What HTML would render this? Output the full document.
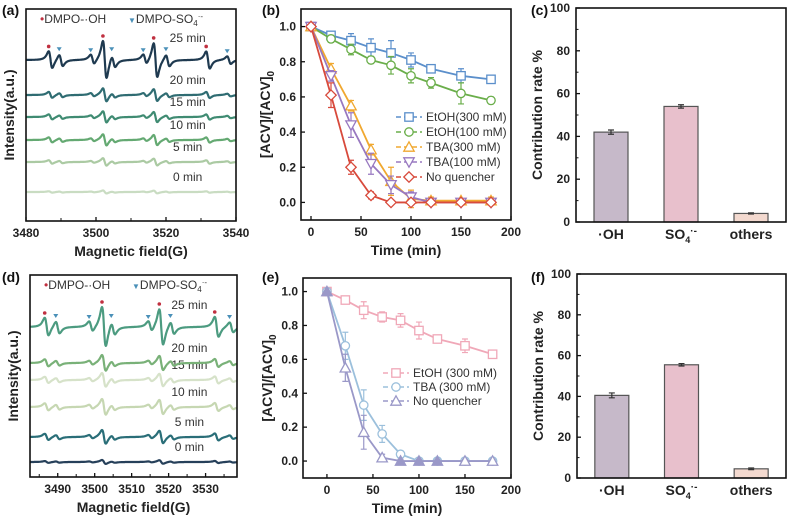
<!DOCTYPE html>
<html><head><meta charset="utf-8"><style>
html,body{margin:0;padding:0;background:#fff;}
svg{display:block;font-family:"Liberation Sans",Arial,sans-serif;}
.t{font-weight:bold;font-size:12px;fill:#222;}
.ti{font-weight:bold;font-size:14px;fill:#222;}
.lg{font-size:12px;fill:#333;}
.pl{font-weight:bold;font-size:14px;fill:#111;}
</style></head><body>
<svg id="fig" width="787" height="527" viewBox="0 0 787 527" xmlns="http://www.w3.org/2000/svg"></svg>
<script>
// ---------- data ----------
const timeB = [0,20,40,60,80,100,120,150,180];
const etoh300B = [1,0.95,0.92,0.88,0.85,0.81,0.76,0.72,0.70];
const etoh300BErr = [0,0.02,0.04,0.05,0.07,0.04,0.02,0.04,0.02];
const etoh100B = [1,0.93,0.87,0.81,0.78,0.72,0.68,0.62,0.58];
const etoh100BErr = [0,0.02,0.03,0.02,0.05,0.04,0.03,0.06,0.02];
const tba300B = [1,0.76,0.55,0.30,0.12,0.02,0.01,0.01,0.01];
const tba300BErr = [0,0.03,0.03,0.03,0.08,0.05,0.02,0.01,0.02];
const tba100B = [1,0.72,0.44,0.22,0.10,0.03,0,0,0];
const tba100BErr = [0,0.03,0.07,0.06,0.05,0.03,0.01,0.01,0.01];
const noqB = [1,0.61,0.20,0.04,0,0,0,0,0];
const noqBErr = [0,0.07,0.04,0.02,0.01,0.01,0.01,0.01,0.01];

const timeE = [0,20,40,60,80,100,120,150,180];
const etohE = [1,0.95,0.89,0.85,0.83,0.77,0.72,0.68,0.63];
const etohEErr = [0,0.02,0.05,0.03,0.04,0.05,0.02,0.04,0.02];
const tbaE = [1,0.68,0.33,0.16,0.04,0,0,0,0];
const tbaEErr = [0,0.08,0.09,0.05,0.02,0.01,0.01,0.01,0.01];
const noqE = [1,0.55,0.17,0.02,0,0,0,0,0];
const noqEErr = [0,0.08,0.10,0.02,0.01,0.01,0.01,0.01,0.01];

const barCats = ["·OH","SO4","others"];
const barsC = [42,54,4];
const barsCErr = [1,0.8,0.3];
const barsF = [40.5,55.5,4.5];
const barsFErr = [1.2,0.6,0.4];

const esrTimes = ["0 min","5 min","10 min","15 min","20 min","25 min"];
const peaksA = [3487,3502.5,3517,3532,3490,3499,3505,3514,3520.5,3538];
const peakAmpA = [0.45,1.0,0.9,0.45,0.3,0.25,0.3,0.25,0.3,0.2];
const scaleA = [0.08,0.2,0.3,0.3,0.35,1.0];
const peaksD = [3487,3502.5,3518,3533,3490,3499,3505,3515,3521,3537];
const peakAmpD = [0.45,1.0,0.9,0.5,0.3,0.25,0.3,0.25,0.3,0.25];
const scaleD = [0.1,0.35,0.4,0.35,0.4,1.0];

const svg = document.getElementById('fig');
const NS = "http://www.w3.org/2000/svg";
function el(tag, attrs, parent, text){
  const e = document.createElementNS(NS, tag);
  for (const k in attrs) e.setAttribute(k, attrs[k]);
  if (text !== undefined) e.textContent = text;
  (parent||svg).appendChild(e);
  return e;
}
function lin(d0,d1,r0,r1){ return v => r0 + (v-d0)*(r1-r0)/(d1-d0); }

function frame(g,x0,y0,x1,y1){
  const r = el('rect',{x:x0,y:y0,width:x1-x0,height:y1-y0,fill:'none',stroke:'#111','stroke-width':1.6},g);
  
  
}
function text(g,x,y,s,cls,anchor,name){
  const t = el('text',{x:x,y:y,class:cls,'text-anchor':anchor||'middle'},g,s);
  
  
  return t;
}

function marker(g,shape,x,y,color,fill){
  const s=4.2; let m;
  const f = fill ? color : '#fff';
  if (shape==='sq') m=el('rect',{x:x-s,y:y-s,width:2*s,height:2*s,fill:f,stroke:color,'stroke-width':1.3},g);
  else if (shape==='ci') m=el('circle',{cx:x,cy:y,r:s,fill:f,stroke:color,'stroke-width':1.3},g);
  else if (shape==='tu') m=el('polygon',{points:`${x},${y-s-1} ${x-s-1},${y+s} ${x+s+1},${y+s}`,fill:f,stroke:color,'stroke-width':1.3},g);
  else if (shape==='td') m=el('polygon',{points:`${x},${y+s+1} ${x-s-1},${y-s} ${x+s+1},${y-s}`,fill:f,stroke:color,'stroke-width':1.3},g);
  else m=el('polygon',{points:`${x},${y-s-1} ${x+s+1},${y} ${x},${y+s+1} ${x-s-1},${y}`,fill:f,stroke:color,'stroke-width':1.3},g);
  return m;
}

function lineChart(cfg){
  const g = el('g',{});
  
  
  const X = lin(cfg.xr[0],cfg.xr[1],cfg.box[0],cfg.box[2]);
  const Y = lin(cfg.yr[0],cfg.yr[1],cfg.box[3],cfg.box[1]);
  cfg.series.forEach(s=>{
    const sg = el('g',{},g);
    
    
    const pts = cfg.t.map((t,i)=>X(t)+','+Y(s.v[i])).join(' ');
    const pl = el('polyline',{points:pts,fill:'none',stroke:s.c,'stroke-width':1.8},sg);
    
    
    cfg.t.forEach((t,i)=>{
      if (s.e[i]>0){
        const x=X(t), ya=Y(s.v[i]+s.e[i]), yb=Y(s.v[i]-s.e[i]);
        const eb = el('path',{d:`M${x},${ya}V${yb}M${x-3},${ya}h6M${x-3},${yb}h6`,stroke:s.c,'stroke-width':1.2,fill:'none'},sg);
        
        
      }
      const m = marker(sg,s.m,X(t),Y(s.v[i]),s.c,s.fill && (i===0 || s.v[i]<0.01 && t<=120));
      
      
    });
  });
  frame(g,...cfg.box);
  cfg.xt.forEach(v=>{
    const x=X(v);
    el('line',{x1:x,x2:x,y1:cfg.box[3],y2:cfg.box[3]-4,stroke:'#111','stroke-width':1.3},g);
    text(g,x,cfg.box[3]+16,String(v),'t','middle','x-tick-label');
  });
  cfg.yt.forEach(v=>{
    const y=Y(v);
    el('line',{x1:cfg.box[0],x2:cfg.box[0]+4,y1:y,y2:y,stroke:'#111','stroke-width':1.3},g);
    text(g,cfg.box[0]-5,y+4,v.toFixed(1),'t','end','y-tick-label');
  });
  text(g,(cfg.box[0]+cfg.box[2])/2,cfg.box[3]+35,'Time (min)','ti','middle','x-axis-title');
  const yt = el('text',{transform:`translate(${cfg.box[0]-31},${(cfg.box[1]+cfg.box[3])/2}) rotate(-90)`,class:'ti','text-anchor':'middle'},g);
  
  
  yt.innerHTML='[ACV]/[ACV]<tspan font-size="10" dy="4">0</tspan>';
  cfg.series.forEach((s,i)=>{
    const ly = cfg.leg[1]+i*cfg.leg[3];
    const lg = el('g',{},g);
    
    
    el('line',{x1:cfg.leg[0],x2:cfg.leg[0]+26,y1:ly,y2:ly,stroke:s.c,'stroke-width':1.5,'stroke-dasharray':'5,3'},lg);
    marker(lg,s.m,cfg.leg[0]+13,ly,s.c,false);
    text(lg,cfg.leg[0]+30,ly+4,s.label,'lg','start','legend-text');
  });
}

lineChart({name:'chart-b',box:[301,9,511,220],xr:[-10,200],yr:[-0.1,1.1],t:timeB,
  xt:[0,50,100,150,200],yt:[0,0.2,0.4,0.6,0.8,1.0],leg:[396,117,0,15],
  series:[
    {key:'etoh300',label:'EtOH(300 mM)',v:etoh300B,e:etoh300BErr,c:'#5b8fcb',m:'sq'},
    {key:'etoh100',label:'EtOH(100 mM)',v:etoh100B,e:etoh100BErr,c:'#6aae4a',m:'ci'},
    {key:'tba300',label:'TBA(300 mM)',v:tba300B,e:tba300BErr,c:'#f0a830',m:'tu'},
    {key:'tba100',label:'TBA(100 mM)',v:tba100B,e:tba100BErr,c:'#9878c0',m:'td'},
    {key:'noq',label:'No quencher',v:noqB,e:noqBErr,c:'#d84a3c',m:'di'}]});

lineChart({name:'chart-e',box:[303,278,511,478],xr:[-26,200],yr:[-0.1,1.08],t:timeE,
  xt:[0,50,100,150,200],yt:[0,0.2,0.4,0.6,0.8,1.0],leg:[383,373,0,14],
  series:[
    {key:'etoh300',label:'EtOH (300 mM)',v:etohE,e:etohEErr,c:'#f0a8b8',m:'sq'},
    {key:'tba300',label:'TBA (300 mM)',v:tbaE,e:tbaEErr,c:'#9cc0dc',m:'ci'},
    {key:'noq',label:'No quencher',v:noqE,e:noqEErr,c:'#9a98c8',m:'tu',fill:true}]});

function barChart(name,box,vals,errs){
  const g = el('g',{});
  
  
  const Y = lin(0,100,box[3],box[1]);
  const slot=(box[2]-box[0])/3;
  const cols=['#c6b9c9','#e8c0cc','#f3d9cf'];
  vals.forEach((v,i)=>{
    const cx = box[0]+slot*(i+0.5);
    const b = el('rect',{x:cx-17,y:Y(v),width:34,height:box[3]-Y(v),fill:cols[i],stroke:'#555','stroke-width':1.2},g);
    
    
    const ya=Y(v+errs[i]), yb=Y(v-errs[i]);
    const eb = el('path',{d:`M${cx},${ya}V${yb}M${cx-3},${ya}h6M${cx-3},${yb}h6`,stroke:'#333','stroke-width':1.2,fill:'none'},g);
    
    
  });
  frame(g,...box);
  [0,20,40,60,80,100].forEach(v=>{
    el('line',{x1:box[0],x2:box[0]+4,y1:Y(v),y2:Y(v),stroke:'#111','stroke-width':1.3},g);
    text(g,box[0]-6,Y(v)+4,String(v),'t','end','y-tick-label');
  });
  [10,30,50,70,90].forEach(v=>el('line',{x1:box[0],x2:box[0]+2.5,y1:Y(v),y2:Y(v),stroke:'#111','stroke-width':1},g));
  const ly = box[3]+17;
  text(g,box[0]+slot*0.5,ly,'·OH','ti','middle','x-category-label');
  const s = el('text',{x:box[0]+slot*1.5,y:ly,class:'ti','text-anchor':'middle'},g);
  
  
  s.innerHTML='SO<tspan font-size="9" dy="4">4</tspan><tspan dy="-9" font-size="10">·-</tspan>';
  text(g,box[0]+slot*2.5,ly,'others','ti','middle','x-category-label');
  const yt = el('text',{transform:`translate(${box[0]-34},${(box[1]+box[3])/2}) rotate(-90)`,class:'ti','text-anchor':'middle'},g,'Contribution rate %');
  
  
}
barChart('chart-c',[576,8,786,222],barsC,barsCErr);
barChart('chart-f',[577,274,786,478],barsF,barsFErr);

const colsA=['#c9dcc2','#abcaa3','#64a972','#3f8b72','#2f6c72','#1f3a50'];
const colsD=['#26405a','#2a6e78','#c6d7b2','#d6e2c9','#79b178','#4c9b80'];
const W=0.9;
function esr(name,box,xr,peaks,amps,scales,bases,amp,cols,ticks,minor){
  const g = el('g',{});
  
  
  const X = lin(xr[0],xr[1],box[0],box[2]);
  scales.forEach((sc,k)=>{
    let d='';
    for (let i=0;i<=500;i++){
      const f = xr[0]+(xr[1]-xr[0])*i/500;
      let y=0;
      peaks.forEach((p,j)=>{ const u=(f-p)/W; y += amps[j]*(-u)/Math.pow(1+u*u,2)/0.325; });
      d += (i?'L':'M')+X(f).toFixed(1)+','+(bases[k]-y*amp*sc).toFixed(1);
    }
    const p = el('path',{d:d,fill:'none',stroke:cols[k],'stroke-width':2.2,'stroke-linejoin':'round'},g);
    
    
    text(g,box[0]+0.77*(box[2]-box[0]),bases[k]-(k===5?18:11),esrTimes[k],'lg','middle','time-label');
  });
  peaks.forEach((p,j)=>{
    const x=X(p-W*0.58), y=bases[5]-amps[j]*amp-5;
    if (j<4) el('circle',{cx:x,cy:y,r:1.8,fill:'#c03040'},g);
    else el('polygon',{points:`${x-2.5},${y-2} ${x+2.5},${y-2} ${x},${y+2}`,fill:'#4a90b8'},g);
  });
  frame(g,...box);
  ticks.forEach(v=>{
    el('line',{x1:X(v),x2:X(v),y1:box[3],y2:box[3]-4,stroke:'#111','stroke-width':1.3},g);
    text(g,X(v),box[3]+16,String(v),'t','middle','x-tick-label');
  });
  minor.forEach(v=>el('line',{x1:X(v),x2:X(v),y1:box[3],y2:box[3]-3,stroke:'#111','stroke-width':1},g));
  text(g,(box[0]+box[2])/2,box[3]+35,'Magnetic field(G)','ti','middle','x-axis-title');
  const yt = el('text',{transform:`translate(${box[0]-12},${(box[1]+box[3])/2}) rotate(-90)`,class:'ti','text-anchor':'middle'},g,'Intensity(a.u.)');
  
  
  const l1 = el('text',{x:box[0]+14,y:box[1]+14,class:'lg'},g);
  
  
  l1.innerHTML='<tspan fill="#c03040">•</tspan>DMPO-·OH';
  const l2 = el('text',{x:box[0]+102,y:box[1]+14,class:'lg'},g);
  
  
  l2.innerHTML='<tspan fill="#4a90b8" font-size="8">▼</tspan>DMPO-SO<tspan font-size="8" dy="3">4</tspan><tspan font-size="8" dy="-7">·-</tspan>';
}
esr('chart-a',[26,9,236,221],[3480,3540],peaksA,peakAmpA,scaleA,[192,162,140,117,95,60],19,colsA,[3480,3500,3520,3540],[3490,3510,3530]);
esr('chart-d',[30,275,237,477],[3482.5,3538.5],peaksD,peakAmpD,scaleD,[462,437,407,380,363,327],20,colsD,[3490,3500,3510,3520,3530],[3485,3495,3505,3515,3525,3535]);

[['(a)',2,15],['(b)',262,15],['(c)',531,15],['(d)',2,282],['(e)',262,282],['(f)',531,282]].forEach(p=>{
  text(svg,p[1],p[2],p[0],'pl','start','panel-label');
});
</script>
</body></html>
